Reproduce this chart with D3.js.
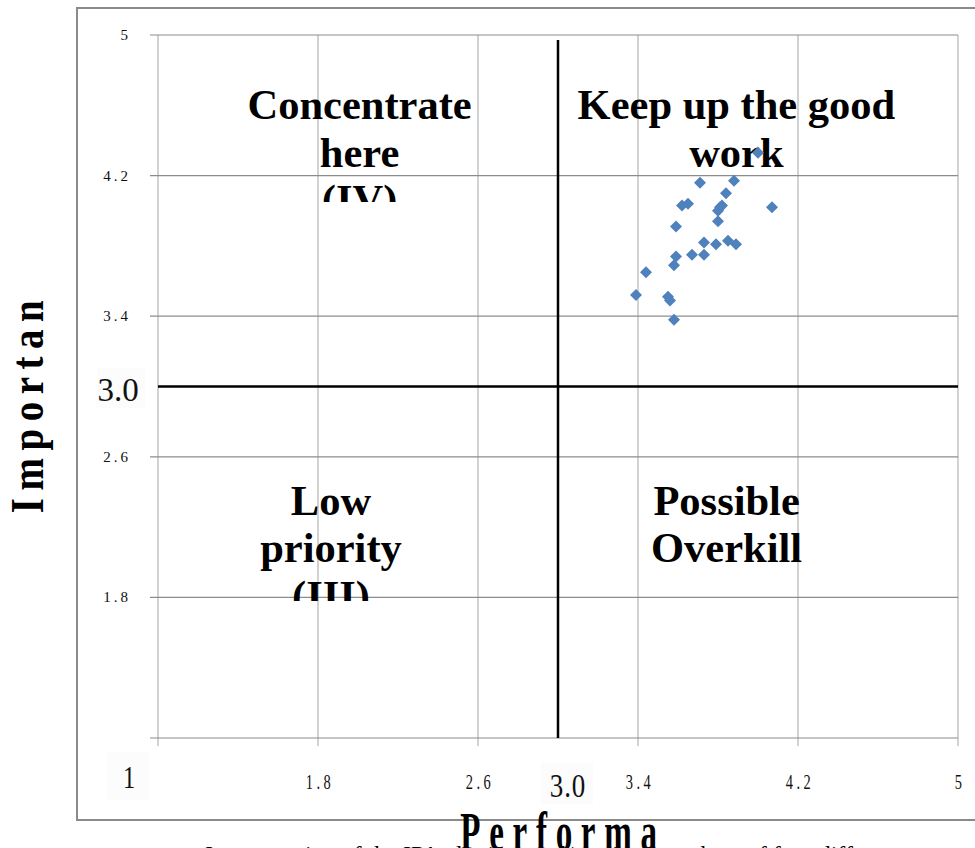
<!DOCTYPE html>
<html><head><meta charset="utf-8">
<script src="https://cdn.jsdelivr.net/npm/d3@7"></script>
<style>
html,body{margin:0;padding:0;background:#fff;overflow:hidden;}
svg{display:block;}
</style></head>
<body>
<svg id="chart" width="975" height="848"></svg>
<script>
// ---- data ----
const performance = [4.00,3.71,3.88,3.84,3.62,3.65,3.82,3.80,3.81,4.07,3.80,3.59,3.73,3.79,3.85,3.89,3.67,3.73,3.59,3.58,3.44,3.39,3.55,3.56,3.58];
const importance  = [4.33,4.16,4.17,4.10,4.03,4.04,4.03,4.00,4.02,4.02,3.94,3.91,3.82,3.81,3.83,3.81,3.75,3.75,3.74,3.69,3.65,3.52,3.51,3.49,3.38];
const tickValues = [1, 1.8, 2.6, 3.4, 4.2, 5];
const tickLabels = ["1", "1.8", "2.6", "3.4", "4.2", "5"];
const meanValue = 3.0;
const quadrantLabels = [
  {lines:["Concentrate","here","(IV)"], px:2.008, py:4.522, clipTo:4.05},
  {lines:["Keep up the good","work"], px:3.892, py:4.522, clipTo:null},
  {lines:["Low","priority","(III)"], px:1.865, py:2.27, clipTo:1.78},
  {lines:["Possible","Overkill"], px:3.843, py:2.27, clipTo:null}
];

const svg = d3.select("#chart");
const x = d3.scaleLinear().domain([1,5]).range([158,958]);
const y = d3.scaleLinear().domain([1,5]).range([738,35]);

// outer frame
svg.append("rect").attr("x",77).attr("y",8).attr("width",910).attr("height",812)
  .attr("fill","#fff").attr("stroke","#8a8a8a").attr("stroke-width",2);

// vertical gridlines
svg.append("g").selectAll("line").data(tickValues).join("line")
  .attr("x1",d=>x(d)).attr("x2",d=>x(d)).attr("y1",y(5)).attr("y2",y(1)+8)
  .attr("stroke","#b4b4b4").attr("stroke-width",1.2);
// horizontal gridlines
svg.append("g").selectAll("line").data(tickValues).join("line")
  .attr("y1",d=>y(d)).attr("y2",d=>y(d)).attr("x1",x(1)-8).attr("x2",x(5))
  .attr("stroke","#8c8c8c").attr("stroke-width",1.2);

// y tick labels (skip 1)
svg.append("g").selectAll("text").data(tickValues.slice(1)).join("text")
  .attr("x",131).attr("y",d=>y(d)+5).attr("text-anchor","end")
  .attr("font-family","Liberation Serif, serif").attr("font-size",15)
  .attr("letter-spacing",3).attr("fill","#111")
  .text((d,i)=>tickLabels[i+1]);

// x tick labels (skip 1)
svg.append("g").selectAll("text").data(tickValues.slice(1)).join("text")
  .attr("transform",d=>`translate(${x(d)+2},789) scale(0.85,1.25)`)
  .attr("text-anchor","middle")
  .attr("font-family","Liberation Serif, serif").attr("font-size",17)
  .attr("letter-spacing",4).attr("fill","#111")
  .text((d,i)=>tickLabels[i+1]);

// "1" origin label
svg.append("rect").attr("x",106).attr("y",752).attr("width",44).attr("height",48).attr("fill","#fcfcfc");
svg.append("text").attr("transform","translate(129,788) scale(0.9,1.15)").attr("text-anchor","middle")
  .attr("font-family","Liberation Serif, serif").attr("font-size",27).attr("fill","#111").text("1");

// mean lines
svg.append("line").attr("x1",x(meanValue)).attr("x2",x(meanValue)).attr("y1",40).attr("y2",y(1))
  .attr("stroke","#000").attr("stroke-width",2.5);
svg.append("line").attr("x1",x(1)).attr("x2",x(5)).attr("y1",y(meanValue)).attr("y2",y(meanValue))
  .attr("stroke","#000").attr("stroke-width",2.5);

// mean labels
svg.append("rect").attr("x",97).attr("y",368).attr("width",48).attr("height",40).attr("fill","#fcfcfc");
svg.append("text").attr("x",118).attr("y",401).attr("text-anchor","middle")
  .attr("font-family","Liberation Serif, serif").attr("font-size",33).attr("fill","#111").text(meanValue.toFixed(1));
svg.append("rect").attr("x",541).attr("y",762).attr("width",52).attr("height",42).attr("fill","#fcfcfc");
svg.append("text").attr("transform",`translate(${x(meanValue)+10},797) scale(0.9,1.15)`).attr("text-anchor","middle")
  .attr("font-family","Liberation Serif, serif").attr("font-size",30).attr("letter-spacing",1).attr("fill","#111").text(meanValue.toFixed(1));

// quadrant labels (clipped boxes)
const defs = svg.append("defs");
quadrantLabels.forEach((q,i)=>{
  const cx = x(q.px), base = y(q.py);
  const bottom = q.clipTo !== null ? y(q.clipTo) : base + 200;
  defs.append("clipPath").attr("id","qc"+i).append("rect")
    .attr("x",cx-220).attr("y",base-60).attr("width",440).attr("height",bottom-(base-60));
  const t = svg.append("text").attr("clip-path",`url(#qc${i})`)
    .attr("text-anchor","middle").attr("font-family","Liberation Serif, serif")
    .attr("font-weight","bold").attr("font-size",42.5).attr("fill","#000");
  q.lines.forEach((l,j)=>{
    t.append("tspan").attr("x",cx).attr("y",base+j*47.5).text(l);
  });
});

// points (diamonds)
const pts = performance.map((p,i)=>({p, imp: importance[i]}));
const r = 6;
svg.append("g").selectAll("path").data(pts).join("path")
  .attr("d",d=>{const cx=x(d.p), cy=y(d.imp); return `M${cx},${cy-r}L${cx+r},${cy}L${cx},${cy+r}L${cx-r},${cy}Z`;})
  .attr("fill","#4F81BD");

// axis titles
svg.append("text").attr("transform","translate(43,403) rotate(-90) scale(1,1.2)").attr("text-anchor","middle")
  .attr("font-family","Liberation Serif, serif").attr("font-weight","bold").attr("font-size",39)
  .attr("letter-spacing",7.5).attr("fill","#000").text("Importan");
svg.append("text").attr("transform","translate(563,850) scale(0.87,1.45)").attr("text-anchor","middle")
  .attr("font-family","Liberation Serif, serif").attr("font-weight","bold").attr("font-size",38)
  .attr("letter-spacing",10).attr("fill","#000").text("Performa");

// caption (cut off at bottom)
svg.append("text").attr("x",205).attr("y",862)
  .attr("font-family","Liberation Serif, serif").attr("font-size",24).attr("fill","#000")
  .text("Interpretation of the IPA plot in travel/tourism members of four different types");
</script>
</body></html>
